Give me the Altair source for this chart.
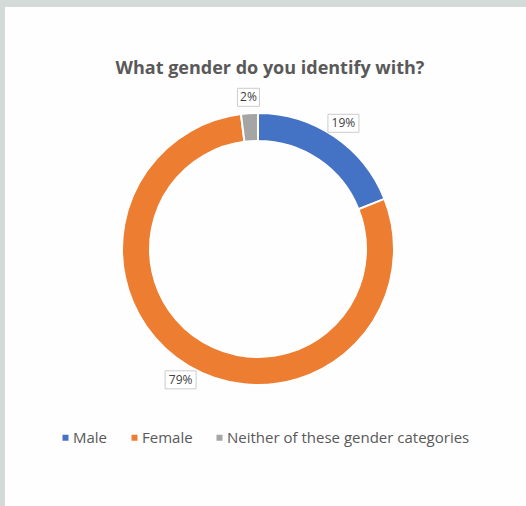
import altair as alt
import pandas as pd

categories = ["Male", "Female", "Neither of these gender categories"]
values = [19, 79, 2]
labels = ["19%", "79%", "2%"]
colors = ["#4472C4", "#ED7D31", "#A5A5A5"]
title_text = "What gender do you identify with?"

CX, CY = 253, 242
R_OUT, R_IN, R_LAB = 136, 108, 152
FONT = "Open Sans"

df = pd.DataFrame({
    "category": categories,
    "value": values,
    "label": labels,
    "order": list(range(len(categories))),
})


def box(lbl):
    w = 9 * len(lbl) + 4
    h = 18
    k = h / w
    return f"M-1,{-k:.3f}L1,{-k:.3f}L1,{k:.3f}L-1,{k:.3f}Z", w * w


df["shape"] = [box(l)[0] for l in labels]
df["bsize"] = [box(l)[1] for l in labels]

color = alt.Color(
    "category:N",
    scale=alt.Scale(domain=categories, range=colors),
    legend=alt.Legend(
        title=None,
        orient="none",
        legendX=49,
        legendY=423,
        direction="horizontal",
        columns=3,
        symbolType="square",
        symbolSize=36,
        symbolStrokeWidth=0,
        symbolOffset=4,
        labelFont=FONT,
        labelFontSize=15,
        labelColor="#595959",
        labelOffset=0,
        labelLimit=0,
        columnPadding=15,
    ),
)

arcs = alt.Chart(df).mark_arc(
    outerRadius=R_OUT, innerRadius=R_IN, stroke="white", strokeWidth=2
).encode(
    theta=alt.Theta("value:Q", stack=True),
    order=alt.Order("order:Q"),
    color=color,
    x=alt.value(CX),
    y=alt.value(CY),
)

pos = alt.Chart(df).transform_window(
    cum="sum(value)", sort=[alt.SortField("order")]
).transform_joinaggregate(
    total="sum(value)"
).transform_calculate(
    mid="(datum.cum - datum.value/2) / datum.total * 2 * PI",
).transform_calculate(
    px=f"{CX} + {R_LAB} * sin(datum.mid)",
    py=f"{CY} - {R_LAB} * cos(datum.mid)",
).encode(
    x=alt.X("px:Q", scale=None, axis=None),
    y=alt.Y("py:Q", scale=None, axis=None),
)

boxes = pos.mark_point(
    filled=True, fill="white", stroke="#cccccc", strokeWidth=1, opacity=1
).encode(
    shape=alt.Shape("shape:N", scale=None, legend=None),
    size=alt.Size("bsize:Q", scale=None, legend=None),
)

texts = pos.mark_text(
    font=FONT, fontSize=12, color="#404040", baseline="middle", align="center"
).encode(text="label:N")

title = alt.Chart(pd.DataFrame({"t": [title_text]})).mark_text(
    font=FONT, fontSize=18, fontWeight="bold", color="#595959",
    baseline="middle", align="center",
).encode(text="t:N", x=alt.value(265), y=alt.value(62))

chart = alt.layer(arcs, boxes, texts, title).properties(
    width=521,
    height=499,
    autosize=alt.AutoSizeParams(type="none"),
    padding={"top": 7, "left": 5, "right": 0, "bottom": 0},
    background="#d3dad8",
).configure_view(fill="#fefefe", strokeWidth=0)

chart.save("out.html", embed_options={"renderer": "svg", "actions": False})
